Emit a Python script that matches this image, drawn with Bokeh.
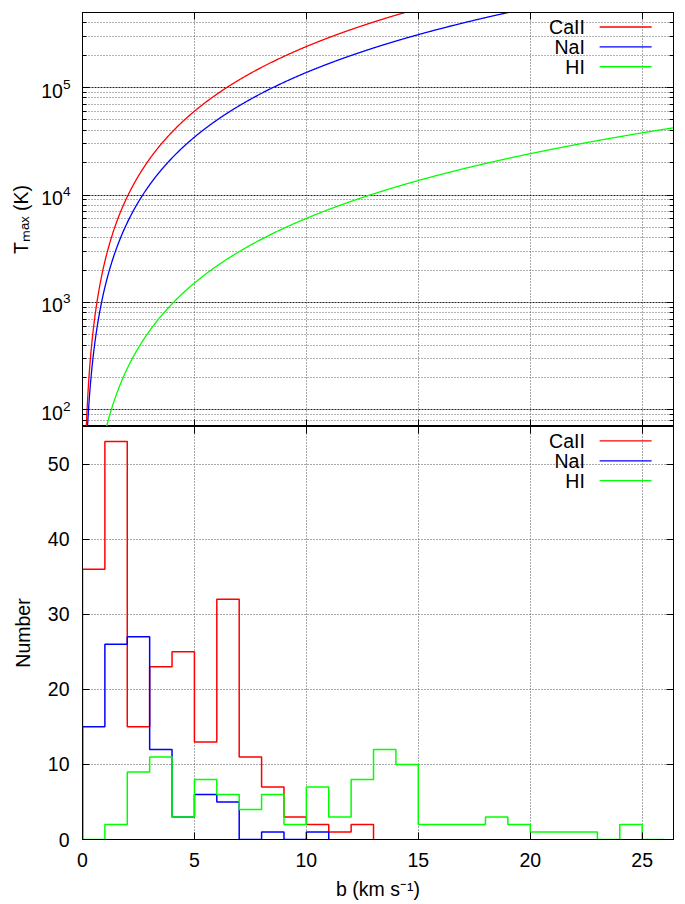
import numpy as np
from bokeh.plotting import figure
from bokeh.layouts import column
from bokeh.models import (Range1d, LinearAxis, FixedTicker, CustomJSTickFormatter,
                          LogTickFormatter, Label)
from bokeh.embed import file_html
from bokeh.resources import INLINE

# Species, atomic masses (u) and line colours
ions = ["CaII", "NaI", "HI"]
ion_mass_u = [40.08, 22.99, 1.008]
ion_colors = ["#ff0000", "#0000ff", "#00ff00"]

# Doppler-parameter histograms: counts per 1 km/s bin, starting at b = 0
bin_width = 1.0
counts_ca = [36, 53, 15, 23, 25, 13, 32, 11, 7, 3, 2, 1, 2]
counts_na = [15, 26, 27, 12, 3, 6, 5, 0, 1, 0, 1]
counts_hi = [0, 2, 9, 11, 3, 8, 6, 4, 6, 2, 7, 3, 8, 12, 10, 2, 2, 2, 3, 2, 1, 1, 1, 0, 2, 0]
hist_counts = [counts_ca, counts_na, counts_hi]

# Axis ranges and ticks
b_range = (0.0, 26.4)
t_range = (70.0, 5.0e5)
n_range = (0.0, 55.0)
b_ticks = [0, 5, 10, 15, 20, 25]
t_decades = [2, 3, 4, 5]
n_ticks = [0, 10, 20, 30, 40, 50]

# Physical constants for T_max = m b^2 / (2 k)
M_U = 1.66053907e-27
K_B = 1.380649e-23

FONT = "Liberation Sans"
FSIZE = "19.5px"
FRAME_W, FRAME_H_TOP, FRAME_H_BOT = 591, 414, 413
LEFT, RIGHT = 82, 12


def style_axis(ax, labels=True):
    ax.axis_line_color = "black"
    ax.major_tick_line_color = "black"
    ax.minor_tick_line_color = "black"
    ax.major_tick_in = 7
    ax.major_tick_out = 0
    ax.minor_tick_in = 4
    ax.minor_tick_out = 0
    ax.major_label_text_font = FONT
    ax.major_label_text_color = "black"
    ax.axis_label_text_font = FONT
    ax.axis_label_text_font_size = FSIZE
    ax.axis_label_text_font_style = "normal"
    ax.axis_label_text_color = "black"
    if labels:
        ax.major_label_text_font_size = FSIZE
    else:
        ax.formatter = CustomJSTickFormatter(code="return ''")
        ax.major_label_text_font_size = "0px"
        ax.major_label_standoff = 0


def style_grid(p):
    for g in (p.xgrid[0], p.ygrid[0]):
        g.grid_line_color = "#555555"
        g.grid_line_dash = "1 2"
        g.grid_line_width = 1


def legend_pos(frac_x, frac_y, log_y, yr):
    x = b_range[0] + frac_x * (b_range[1] - b_range[0])
    if log_y:
        lo, hi = np.log10(yr[0]), np.log10(yr[1])
        y = 10 ** (hi - frac_y * (hi - lo))
    else:
        y = yr[1] - frac_y * (yr[1] - yr[0])
    return x, y


def draw_key(p, log_y, yr):
    rows = [0.035, 0.083, 0.131]
    for name, color, fy in zip(ions, ion_colors, rows):
        tx, ty = legend_pos(0.850, fy, log_y, yr)
        x0, _ = legend_pos(0.875, fy, log_y, yr)
        x1, _ = legend_pos(0.963, fy, log_y, yr)
        p.add_layout(Label(x=tx, y=ty, text=name, text_align="right", text_baseline="middle",
                           text_font=FONT, text_font_size=FSIZE, text_color="black"))
        p.segment(x0=[x0], y0=[ty], x1=[x1], y1=[ty], line_color=color, line_width=1.3)


# ---------- upper panel: maximum temperature vs b ----------
t_minor = [m * 10 ** d for d in [1] + t_decades for m in range(2, 10)]
t_major = [10.0 ** d for d in t_decades]

top = figure(frame_width=FRAME_W, frame_height=FRAME_H_TOP, y_axis_type="log",
             x_range=Range1d(*b_range), y_range=Range1d(*t_range),
             min_border_left=LEFT, min_border_right=RIGHT, min_border_top=12, min_border_bottom=0,
             toolbar_location=None, output_backend="svg")
top.outline_line_color = "black"
top.background_fill_color = "white"
top.border_fill_color = "white"

t_ticker = FixedTicker(ticks=t_major, minor_ticks=t_minor)
b_ticker = FixedTicker(ticks=b_ticks, minor_ticks=[])
top.yaxis.ticker = t_ticker
top.xaxis.ticker = b_ticker
style_axis(top.yaxis[0])
top.yaxis.formatter = LogTickFormatter()
style_axis(top.xaxis[0], labels=False)
top.yaxis.axis_label = "T\u2098\u2090\u2093 (K)"
top.yaxis.major_label_standoff = 12
top.yaxis.axis_label_standoff = 6

style_grid(top)
top.ygrid[0].minor_grid_line_color = "#666666"
top.ygrid[0].minor_grid_line_dash = "1 2"
top.ygrid[0].grid_line_color = "#222222"
top.ygrid[0].grid_line_dash = "2 1"

ax_r = LinearAxis(ticker=t_ticker)
style_axis(ax_r, labels=False)
top.add_layout(ax_r, "right")
ax_t = LinearAxis(ticker=b_ticker)
style_axis(ax_t, labels=False)
top.add_layout(ax_t, "above")

b_kms = np.linspace(0.02, b_range[1], 1200)
for mass, color in zip(ion_mass_u, ion_colors):
    t_max = mass * M_U * (b_kms * 1e3) ** 2 / (2.0 * K_B)
    top.line(b_kms, t_max, line_color=color, line_width=1.3)

draw_key(top, True, t_range)

# ---------- lower panel: b-value histograms ----------
bot = figure(frame_width=FRAME_W, frame_height=FRAME_H_BOT,
             x_range=Range1d(*b_range), y_range=Range1d(*n_range),
             min_border_left=LEFT, min_border_right=RIGHT, min_border_top=0, min_border_bottom=65,
             toolbar_location=None, output_backend="svg")
bot.outline_line_color = "black"
bot.background_fill_color = "white"
bot.border_fill_color = "white"

n_ticker = FixedTicker(ticks=n_ticks, minor_ticks=[])
bot.xaxis.ticker = b_ticker
bot.yaxis.ticker = n_ticker
style_axis(bot.xaxis[0])
style_axis(bot.yaxis[0])
bot.xaxis.axis_label = "b (km s\u207b\u00b9)"
bot.yaxis.axis_label = "Number"
bot.xaxis.major_label_standoff = 13
bot.yaxis.major_label_standoff = 13
bot.xaxis.axis_label_standoff = 8
bot.yaxis.axis_label_standoff = 11
style_grid(bot)

ax_r2 = LinearAxis(ticker=n_ticker)
style_axis(ax_r2, labels=False)
bot.add_layout(ax_r2, "right")
ax_t2 = LinearAxis(ticker=b_ticker)
style_axis(ax_t2, labels=False)
bot.add_layout(ax_t2, "above")

for counts, color in zip(hist_counts, ion_colors):
    counts = np.asarray(counts, dtype=float)
    edges = np.arange(len(counts) + 1) * bin_width
    xs = np.repeat(edges, 2)
    ys = np.concatenate([[0.0], np.repeat(counts, 2), [0.0]])
    bot.line(xs, ys, line_color=color, line_width=1.5)

draw_key(bot, False, n_range)

layout = column(top, bot, spacing=0)
open("out.html", "w").write(file_html(layout, INLINE))
